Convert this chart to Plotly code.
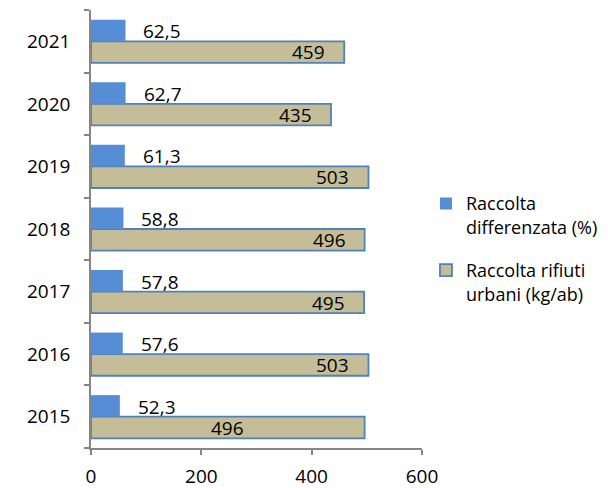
import plotly.graph_objects as go

# ---- dati ----
anni = ["2015", "2016", "2017", "2018", "2019", "2020", "2021"]
differenziata = [52.3, 57.6, 57.8, 58.8, 61.3, 62.7, 62.5]       # %
rifiuti_urbani = [496, 503, 495, 496, 503, 435, 459]              # kg/ab
# posizione etichetta della raccolta rifiuti (come nell'originale)
pos_etichette = ["center", "end", "end", "end", "end", "end", "end"]

BLU = '#558ED5'
BEIGE = '#C4BD97'
BORDO = '#4F81BD'
ASSE = '#868686'
FONT = 'Open Sans, Noto Sans, sans-serif'
FS = 19

fig = go.Figure()

# beige prima -> in basso nel gruppo
fig.add_trace(go.Bar(
    y=anni, x=rifiuti_urbani, orientation='h',
    name='Raccolta rifiuti<br>urbani (kg/ab)',
    marker=dict(color=BEIGE, line=dict(color=BORDO, width=1.8)),
    legendgroup='b', legendrank=2, hoverinfo='x',
))
fig.add_trace(go.Bar(
    y=anni, x=differenziata, orientation='h',
    name='Raccolta<br>differenzata (%)',
    marker=dict(color=BLU, line=dict(width=0)),
    legendgroup='a', legendrank=1, hoverinfo='x',
))

# etichette dei valori (virgola decimale); y = indice della categoria
annotazioni = []
for i, v in enumerate(differenziata):
    annotazioni.append(dict(
        x=v, y=i, text=f"{v:.1f}".replace('.', ','), showarrow=False,
        xanchor='left', xshift=16, yshift=10,
        font=dict(size=FS, color='#000000', family=FONT),
    ))
for i, (v, p) in enumerate(zip(rifiuti_urbani, pos_etichette)):
    if p == 'center':
        annotazioni.append(dict(
            x=v / 2, y=i, text=str(v), showarrow=False,
            xanchor='center', yshift=-11,
            font=dict(size=FS, color='#000000', family=FONT),
        ))
    else:
        annotazioni.append(dict(
            x=v, y=i, text=str(v), showarrow=False,
            xanchor='right', xshift=-17, yshift=-11,
            font=dict(size=FS, color='#000000', family=FONT),
        ))

# pagina con margine 8px del body: 600x480 riempie la finestra 608x488
fig.update_layout(
    width=600, height=480,
    paper_bgcolor='white', plot_bgcolor='white',
    font=dict(family=FONT, size=FS, color='#000000'),
    barmode='group', bargap=0.31, bargroupgap=0,
    margin=dict(l=83, r=186, t=2, b=40, autoexpand=False),
    annotations=annotazioni,
    showlegend=True,
    legend=dict(
        x=1.012, xanchor='left', y=0.455, yanchor='middle',
        traceorder='grouped', tracegroupgap=17, valign='top',
        font=dict(size=18, family=FONT, color='#000000'),
        bgcolor='rgba(0,0,0,0)',
    ),
)

fig.update_xaxes(
    range=[0, 600], tickvals=[0, 200, 400, 600],
    showgrid=False, zeroline=False, automargin=False,
    showline=True, linecolor=ASSE, linewidth=1.5,
    ticks='outside', ticklen=5, tickcolor=ASSE, tickwidth=1.5,
    ticklabelstandoff=5,
)
fig.update_yaxes(
    type='category', categoryorder='array', categoryarray=anni,
    range=[-0.5, len(anni) - 0.5], automargin=False,
    showgrid=False, zeroline=False,
    showline=True, linecolor=ASSE, linewidth=1.5,
    ticks='outside', ticklen=5, tickcolor=ASSE, tickwidth=1.5,
    tickson='boundaries', ticklabelstandoff=15,
)

fig.write_html("out.html")
